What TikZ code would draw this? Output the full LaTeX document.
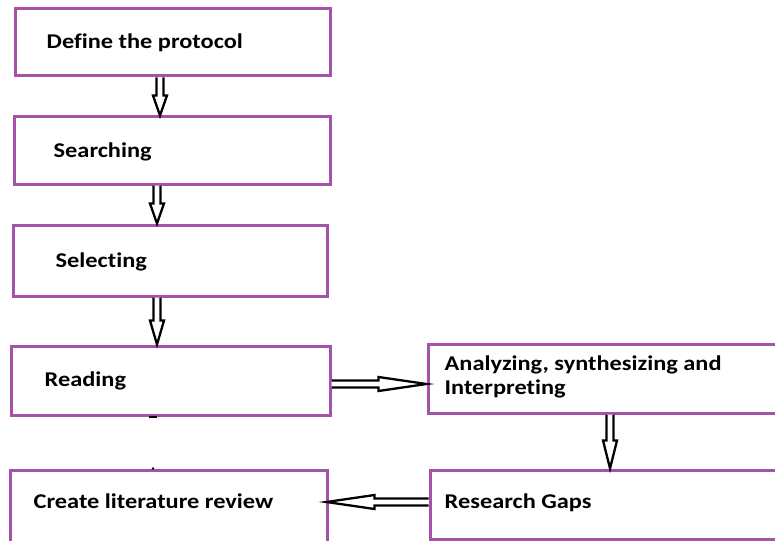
\documentclass[tikz,border=0pt]{standalone}
\usepackage{fontspec}
\setmainfont[FakeStretch=1.16,Ligatures={NoCommon},RawFeature={-liga;-clig;-dlig}]{Carlito}
\usetikzlibrary{calc}
\definecolor{boxpurple}{RGB}{165,82,170}
\newcommand\blockarr[3]{%
  \coordinate (ba) at #1;
  \coordinate (bb) at #2;
  \coordinate (bm) at ($(bb)!#3!(ba)$);
  \draw[arrowline] ($(ba)!3.5pt!90:(bb)$) -- ($(bm)!3.5pt!-90:(ba)$) -- ($(bm)!7pt!-90:(ba)$) -- (bb)
    -- ($(bm)!7pt!90:(ba)$) -- ($(bm)!3.5pt!90:(ba)$) -- ($(ba)!3.5pt!-90:(bb)$);
}
\tikzset{
  stepbox/.style={draw=boxpurple, line width=3pt, rectangle, inner sep=0pt, fill=white},
  boxtext/.style={anchor=west, inner sep=0pt, font=\fontsize{21}{24}\selectfont\bfseries, align=left},
  arrowline/.style={draw=black, line width=2.3pt, line join=miter, fill=white},
}
\begin{document}
\begin{tikzpicture}[x=1pt,y=-1pt]
\useasboundingbox (0,0) rectangle (775,540);
\clip (0,0) rectangle (775,540);
\node[stepbox, minimum width=315pt, minimum height=67pt] (def) at (172.5,42.5) {};
\node[stepbox, minimum width=316pt, minimum height=67pt] (search) at (172,150.5) {};
\node[stepbox, minimum width=314pt, minimum height=71pt] (select) at (170,260.5) {};
\node[stepbox, minimum width=319pt, minimum height=69pt] (read) at (170.5,380.5) {};
\node[stepbox, minimum width=317pt, minimum height=75pt] (create) at (168.5,507.5) {};
\node[stepbox, minimum width=372pt, minimum height=69pt] (anal) at (614,378.5) {};
\node[stepbox, minimum width=370pt, minimum height=69pt] (gaps) at (615,504.5) {};

\node[boxtext] (tdef) at ([xshift=33pt,yshift=-0.5pt]def.west) {Define the protocol};
\node[boxtext] (tsearch) at ([xshift=41pt,yshift=-1.5pt]search.west) {Searching};
\node[boxtext] (tselect) at ([xshift=44pt,yshift=-1pt]select.west) {Selecting};
\node[boxtext] (tread) at ([xshift=35pt,yshift=-0.5pt]read.west) {Reading};
\node[boxtext] (tcreate) at ([xshift=25pt,yshift=6pt]create.west) {Create literature review};
\node[boxtext] (tanal) at ([xshift=18pt,yshift=1.5pt]anal.west) {Analyzing, synthesizing and\\Interpreting};
\node[boxtext] (tgaps) at ([xshift=16pt,yshift=1.5pt]gaps.west) {Research Gaps};

\coordinate (s1) at ([xshift=-12.5pt]def.south);
\blockarr{(s1)}{(s1 |- search.north)}{20pt}
\coordinate (s2) at ([xshift=-15pt]search.south);
\blockarr{(s2)}{(s2 |- select.north)}{20pt}
\coordinate (s3) at ([xshift=-13pt]select.south);
\blockarr{(s3)}{(s3 |- read.north)}{24pt}
\coordinate (s4) at ([yshift=-3.5pt]read.east);
\blockarr{(s4)}{(s4 -| anal.west)}{48pt}
\coordinate (s5) at ([xshift=-4pt]anal.south);
\blockarr{(s5)}{(s5 |- gaps.north)}{28pt}
\coordinate (s6) at ([yshift=2.5pt]gaps.west);
\blockarr{(s6)}{($(s6 -| create.east)+(-2pt,0)$)}{48pt}

\coordinate (m1) at ([xshift=-18pt]read.south);
\draw[line width=2pt] ([xshift=-4pt]m1) -- ([xshift=4pt]m1);
\coordinate (m2) at ([xshift=-15.5pt]create.north);
\fill (m2) circle (1.3pt);
\end{tikzpicture}
\end{document}
